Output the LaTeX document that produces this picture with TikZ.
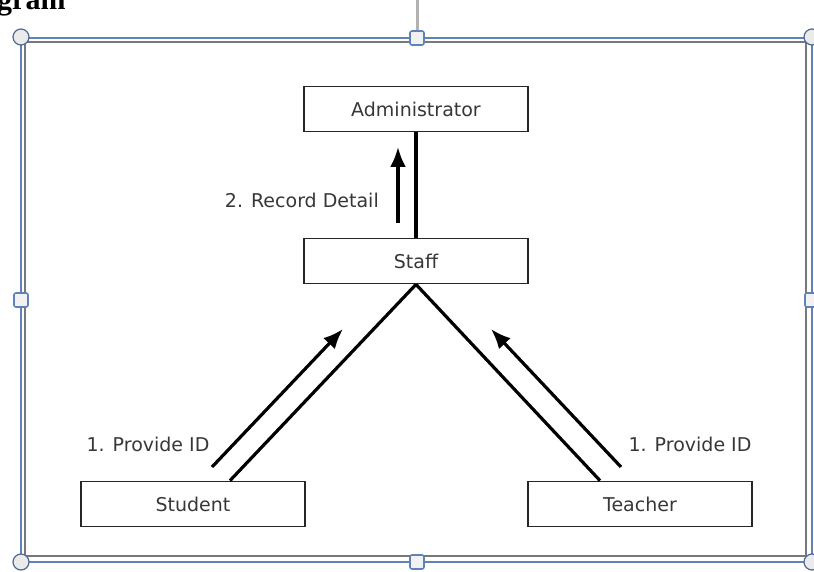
\documentclass[tikz,border=0pt]{standalone}
\usepackage{fontspec}
\newfontfamily\diagfont{DejaVu Sans}
\newfontfamily\headfont{Liberation Serif}
\usetikzlibrary{calc,arrows.meta}
\definecolor{selblue}{RGB}{95,130,185}
\definecolor{selgray}{RGB}{120,120,120}
\definecolor{txtgray}{RGB}{55,55,55}
\tikzset{
	actor/.style={draw=black!85, line width=1.8pt, minimum width=224pt, minimum height=45pt, inner sep=0pt, text=txtgray, font=\diagfont\fontsize{19}{23}\selectfont},
	lbl/.style={text=txtgray, inner sep=0pt, font=\diagfont\fontsize{19}{23}\selectfont},
	link/.style={line width=3.2pt, black},
	flow/.style={line width=3.2pt, black, -{Latex[length=20pt,width=16pt]}},
	ringhandle/.style={draw=selblue!80!black, line width=1.2pt, fill=black!8},
	boxhandle/.style={draw=selblue, line width=1.6pt, fill=black!5, rounded corners=2pt}
}

\begin{document}
\begin{tikzpicture}[x=1pt, y=-1pt]
		%%%%% START %%%%%
		\useasboundingbox (0,0) rectangle (814,572);
		
		% heading cut off at the top
		\node[anchor=base west, inner sep=0pt, font=\headfont\bfseries\fontsize{30}{34}\selectfont] (head) at (-3,10) {gram};
		
		% selection frame
		\draw[line width=2.5pt, selgray] (25,42) rectangle (806,556);
		\draw[line width=2pt, selblue] (21,38) rectangle (812,562);
		\draw[line width=3pt, black!30] (417,0) -- (417,31);
		\draw[ringhandle] (21,37) circle (8);
		\draw[ringhandle] (812,37) circle (8);
		\draw[ringhandle] (21,562) circle (8);
		\draw[ringhandle] (812,562) circle (8);
		\draw[boxhandle] (410,31) rectangle (424,45);
		\draw[boxhandle] (410,555) rectangle (424,569);
		\draw[boxhandle] (14,293) rectangle (28,307);
		\draw[boxhandle] (805,293) rectangle (819,307);
		
		% actors
		\node[actor] (admin) at (416,109) {Administrator};
		\node[actor] (staff) at (416,261) {Staff};
		\node[actor] (student) at (193,504) {Student};
		\node[actor] (teacher) at (640,504) {Teacher};
		
		% links
		\draw[link] (admin.south) -- (staff.north);
		\draw[link] (staff.south) -- ($(student.north)+(37,0)$);
		\draw[link] (staff.south) -- ($(teacher.north)+(-40,0)$);
		
		% message flows
		\coordinate (recfrom) at (398,223);
		\coordinate (recto) at (398,147);
		\coordinate (stufrom) at (212,467);
		\coordinate (stuto) at (343,329);
		\coordinate (teafrom) at (621,467);
		\coordinate (teato) at (491,329);
		\draw[flow] (recfrom) -- (recto);
		\draw[flow] (stufrom) -- (stuto);
		\draw[flow] (teafrom) -- (teato);
		
		\node[lbl, anchor=east] (reclbl) at (379,200) {2. Record Detail};
		\node[lbl] (stulbl) at (148,444) {1. Provide ID};
		\node[lbl] (tealbl) at (690,444) {1. Provide ID};
		
		%%%%% END %%%%%
	\end{tikzpicture}
\end{document}
